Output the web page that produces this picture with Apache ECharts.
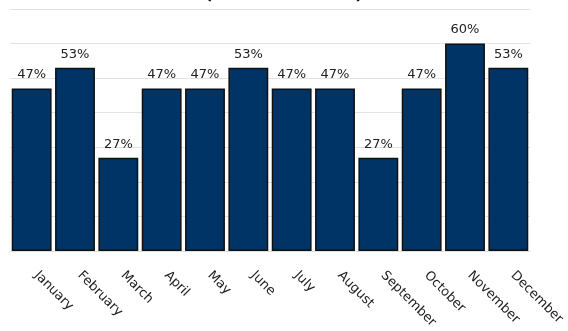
<!DOCTYPE html>
<html><head><meta charset="utf-8">
<script src="https://cdn.jsdelivr.net/npm/echarts@6/dist/echarts.min.js"></script>
<style>html,body{margin:0;padding:0;background:#fff}#c{width:568px;height:331px}</style>
</head><body><div id="c"></div>
<script>
const months = ["January","February","March","April","May","June","July","August","September","October","November","December"];
const values = [47,53,27,47,47,53,47,47,27,47,60,53];
const titleText = "(Percent of Total)";
const chart = echarts.init(document.getElementById('c'), null, {renderer:'canvas'});
chart.setOption({
  animation:false,
  title:{text:titleText,left:'center',top:-18,textStyle:{fontFamily:'DejaVu Sans',fontSize:16,fontWeight:'bold',color:'#111'}},
  grid:{left:10,right:38,top:9,bottom:79},
  xAxis:{type:'category',data:months,
    axisLine:{lineStyle:{color:'#e0e0e0'}},axisTick:{show:false},
    axisLabel:{rotate:-45,interval:0,margin:27,verticalAlign:'bottom',color:'#222',fontFamily:'DejaVu Sans',fontSize:13}},
  yAxis:{type:'value',min:0,max:70,interval:10,axisLabel:{show:false},axisLine:{show:false},axisTick:{show:false},
    splitLine:{lineStyle:{color:'#e3e3e3'}}},
  series:[{type:'bar',data:values,barCategoryGap:'8%',
    itemStyle:{color:'#003366',borderColor:'#111',borderWidth:1.5},
    label:{show:true,position:'top',distance:7,formatter:'{c}%',color:'#222',fontFamily:'DejaVu Sans',fontSize:13}}]
});
</script></body></html>
